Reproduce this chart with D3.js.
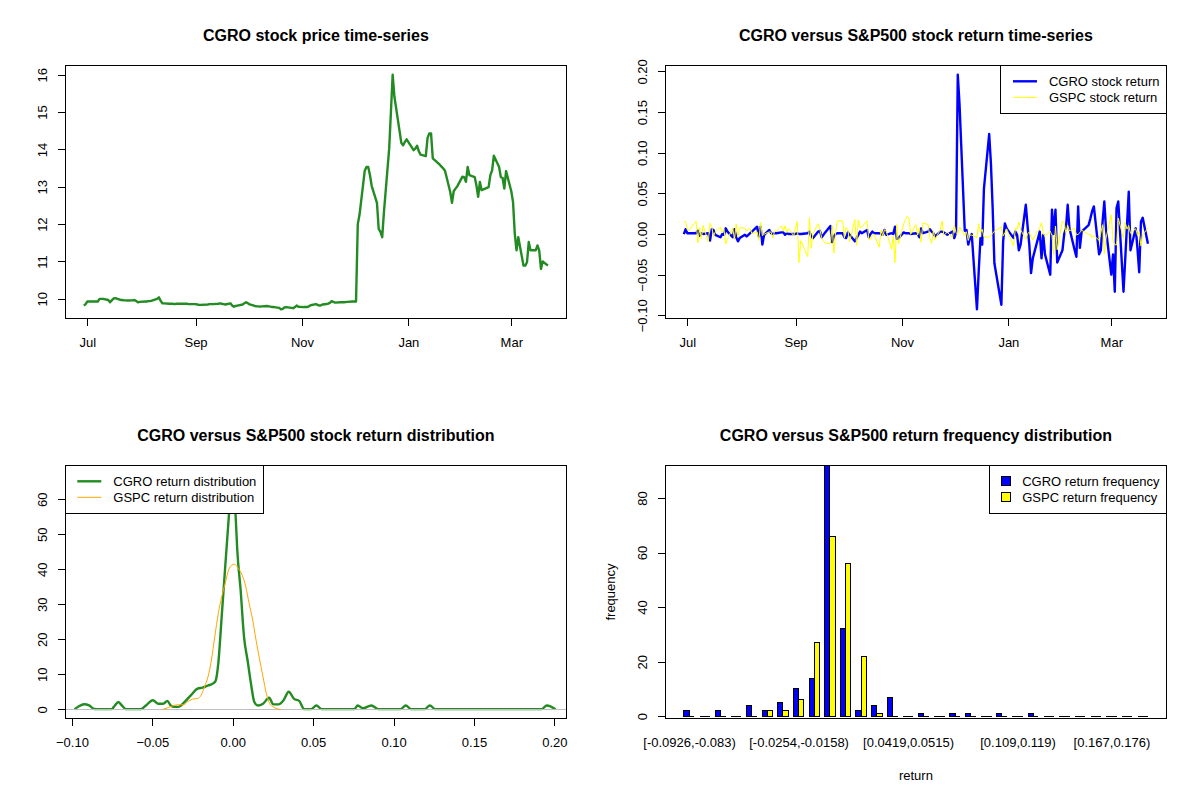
<!DOCTYPE html>
<html>
<head>
<meta charset="utf-8">
<script src="https://cdn.jsdelivr.net/npm/d3@7"></script>
<style>
  body { margin: 0; background: #fff; }
  svg text { font-family: "Liberation Sans", Arial, Helvetica, sans-serif; fill: #000; }
</style>
</head>
<body>
<svg id="chart" width="1200" height="800"></svg>
<script>
// ---- data ----
var firstDay = "2020-06-29", lastDay = "2021-03-22";
var holidays = ["2020-07-03","2020-09-07","2020-11-26","2020-12-25","2021-01-01","2021-01-18","2021-02-15"];

// CGRO close, one value per trading day
var cgroPrice = [
  9.82, 9.86, 9.93, 9.93, 9.93, 9.93, 10.00, 10.00, 10.00, 9.97,
  9.91, 9.96, 10.01, 10.02, 9.97, 9.97, 9.96, 9.96, 9.955, 9.96,
  9.97, 9.94, 9.91, 9.92, 9.93, 9.93, 9.94, 9.94, 9.955, 10.00,
  10.04, 9.95, 9.88, 9.88, 9.87, 9.87, 9.87, 9.86, 9.87, 9.87,
  9.87, 9.87, 9.87, 9.86, 9.86, 9.86, 9.85, 9.84, 9.84, 9.85,
  9.86, 9.86, 9.86, 9.87, 9.88, 9.87, 9.86, 9.85, 9.88, 9.82,
  9.79, 9.81, 9.82, 9.85, 9.88, 9.91, 9.88, 9.85, 9.81, 9.80,
  9.80, 9.79, 9.80, 9.81, 9.80, 9.79, 9.78, 9.78, 9.76, 9.72,
  9.73, 9.77, 9.78, 9.76, 9.75, 9.78, 9.82, 9.79, 9.78, 9.78,
  9.78, 9.80, 9.83, 9.86, 9.84, 9.82, 9.83, 9.85, 9.87, 9.89,
  9.94, 9.92, 9.90, 9.91, 9.91, 9.91, 9.92, 9.93, 9.93, 9.93,
  12.00, 12.25, 13.43, 13.53, 13.53, 13.31, 13.02, 12.57, 11.87, 11.79,
  11.65, 12.32, 14.02, 15.00, 16.00, 15.41, 14.17, 14.11, 14.20, 14.27,
  13.98, 14.02, 14.10, 13.95, 13.86, 13.82, 14.31, 14.43, 14.43, 13.76,
  13.59, 13.54, 13.49, 13.43, 12.86, 12.57, 12.88, 12.95, 13.01, 13.27,
  13.26, 13.13, 13.53, 13.31, 13.26, 13.04, 12.73, 13.13, 12.91, 12.99,
  13.31, 13.44, 13.83, 13.53, 13.26, 13.24, 12.95, 13.42, 12.88, 12.59,
  11.74, 11.30, 11.65, 10.89, 10.89, 10.98, 11.52, 11.30, 11.30, 11.43,
  11.30, 10.80, 11.00, 10.89
];

// daily returns
var cgroReturn = [
  0.000, 0.006, 0.001, 0.001, 0.001, 0.004, -0.002, 0.001, 0.000, 0.001,
  -0.008, 0.006, 0.005, -0.001, -0.004, 0.000, -0.001, 0.007, 0.003, -0.004,
  0.006, -0.004, -0.009, -0.005, -0.001, -0.003, -0.001, 0.001, 0.003, 0.009,
  -0.003, 0.009, -0.013, -0.001, 0.005, 0.001, 0.000, 0.001, 0.001, 0.002,
  0.002, -0.001, 0.001, 0.000, 0.000, 0.000, 0.001, 0.000, 0.000, 0.001,
  0.003, -0.003, -0.005, 0.003, 0.004, -0.004, -0.001, 0.002, 0.010, -0.010,
  -0.003, 0.000, 0.001, 0.001, -0.004, -0.005, 0.002, -0.001, -0.009, -0.005,
  -0.001, 0.003, 0.001, 0.005, -0.004, 0.000, 0.003, 0.001, 0.001, 0.000,
  -0.001, 0.005, -0.001, 0.001, 0.000, 0.009, -0.006, -0.005, 0.002, 0.001,
  0.001, 0.001, 0.000, 0.001, 0.000, -0.004, 0.007, 0.001, 0.003, 0.006,
  0.003, 0.001, -0.003, 0.003, 0.003, 0.002, -0.001, 0.003, -0.005, 0.002,
  0.196, 0.160, 0.004, 0.005, -0.013, -0.005, 0.000, -0.0926, -0.046, -0.005,
  -0.013, 0.056, 0.123, 0.087, 0.032, -0.036, -0.087, -0.009, 0.013, 0.007,
  -0.005, 0.003, -0.001, -0.020, -0.013, 0.036, 0.010, -0.013, -0.048, -0.030,
  0.003, -0.030, -0.001, -0.025, -0.050, 0.030, 0.000, 0.030, -0.035, -0.020,
  0.000, 0.007, 0.036, 0.007, -0.020, -0.028, 0.034, -0.017, 0.003, 0.011,
  0.019, 0.028, 0.034, -0.025, -0.020, 0.015, 0.040, 0.005, -0.050, -0.025,
  -0.071, 0.032, 0.040, -0.071, -0.030, 0.011, 0.052, -0.020, 0.007, -0.018,
  -0.047, 0.015, 0.020, -0.012
];

var gspcReturn = [
  0.0147, 0.0154, 0.0050, 0.0045, 0.0159, -0.0108, 0.0078, -0.0056, 0.0105, -0.0094,
  0.0134, 0.0091, -0.0034, 0.0028, 0.0084, 0.0017, 0.0057, -0.0123, -0.0062, 0.0074,
  -0.0065, 0.0124, -0.0038, 0.0077, 0.0072, 0.0036, 0.0064, 0.0064, 0.0006, 0.0027,
  -0.0080, 0.0140, -0.0020, -0.0002, 0.0027, 0.0023, -0.0044, 0.0032, 0.0034, 0.0100,
  0.0036, 0.0102, 0.0017, 0.0067, -0.0022, 0.0075, 0.0154, -0.0351, -0.0081, -0.0278,
  0.0201, -0.0176, 0.0005, 0.0127, 0.0052, -0.0046, -0.0084, -0.0112, -0.0116, 0.0105,
  -0.0237, 0.0030, 0.0160, 0.0161, -0.0048, 0.0083, 0.0053, -0.0096, 0.0180, -0.0140,
  0.0174, 0.0080, 0.0088, 0.0164, -0.0063, -0.0066, -0.0015, 0.0001, -0.0163, 0.0047,
  -0.0022, 0.0052, 0.0034, -0.0186, -0.0030, -0.0353, 0.0119, -0.0121, 0.0123, 0.0178,
  0.0220, 0.0195, -0.0003, 0.0117, -0.0014, 0.0077, -0.0100, 0.0136, 0.0116, -0.0048,
  -0.0116, 0.0039, -0.0068, 0.0056, 0.0162, -0.0016, 0.0024, -0.0046, 0.0113, 0.0018,
  -0.0006, 0.0088, -0.0019, 0.0028, -0.0079, -0.0013, -0.0013, -0.0044, 0.0129, 0.0018,
  0.0058, -0.0035, -0.0039, -0.0021, 0.0007, 0.0035, 0.0087, -0.0022, 0.0013, 0.0064,
  -0.0148, 0.0071, 0.0057, 0.0148, 0.0055, -0.0066, 0.0004, 0.0023, -0.0038, -0.0072,
  0.0081, 0.0139, 0.0003, -0.0030, 0.0036, -0.0015, -0.0257, 0.0098, -0.0193, 0.0161,
  0.0139, 0.0010, 0.0109, 0.0039, 0.0074, -0.0011, -0.0003, 0.0017, 0.0047, -0.0006,
  -0.0003, -0.0044, -0.0019, -0.0077, 0.0013, 0.0114, -0.0245, -0.0048, 0.0238, -0.0081,
  -0.0131, -0.0134, 0.0195, -0.0054, 0.0142, 0.0060, 0.0104, 0.0010, 0.0065, -0.0016,
  0.0029, -0.0148, -0.0006, 0.0070
];

var monthTicks = ["2020-07-01", "2020-09-01", "2020-11-01", "2021-01-01", "2021-03-01"];
var monthLabels = ["Jul", "Sep", "Nov", "Jan", "Mar"];

// density estimates
var cgroDensX = [-0.0983, -0.0957, -0.0925, -0.0893, -0.0861, -0.0829, -0.0754, -0.0733, -0.0711, -0.0690,
  -0.0664, -0.0572, -0.0540, -0.0497, -0.0465, -0.0433, -0.0407, -0.0386, -0.0364, -0.0336,
  -0.0304, -0.0261, -0.0219, -0.0187, -0.0154, -0.0122, -0.0107, -0.0090, -0.0069, -0.0047,
  -0.0026, -0.0013, -0.0002, 0.0017, 0.0028, 0.0049, 0.0070, 0.0092, 0.0113, 0.0134,
  0.0156, 0.0188, 0.0226, 0.0252, 0.0284, 0.0316, 0.0348, 0.0381, 0.0413, 0.0445,
  0.0488, 0.0520, 0.0552, 0.0755, 0.0777, 0.0809, 0.0862, 0.0905, 0.1044, 0.1076,
  0.1108, 0.1194, 0.1226, 0.1258, 0.1921, 0.1953, 0.2007];
var cgroDensY = [0.0, 0.86, 1.43, 1.1, 0.1, 0.05, 0.05, 1.1, 2.1, 1.1,
  0.05, 0.05, 1.1, 2.6, 1.6, 1.6, 2.4, 1.1, 0.7, 0.7,
  1.9, 4.0, 5.9, 6.2, 6.8, 7.4, 8.1, 13.1, 26.4, 40.7,
  54.1, 62.7, 67.0, 56.0, 45.5, 34.0, 20.7, 14.0, 7.4, 2.1,
  1.1, 1.6, 3.3, 1.4, 1.4, 2.6, 5.0, 3.0, 2.4, 0.05,
  0.05, 1.1, 0.05, 0.05, 1.1, 0.3, 1.1, 0.05, 0.05, 1.1,
  0.05, 0.05, 1.1, 0.05, 0.05, 1.1, 0.05];
var gspcDensX = [-0.0433, -0.0401, -0.0368, -0.0336, -0.0304, -0.0283, -0.0250, -0.0218, -0.0197, -0.0176,
  -0.0154, -0.0133, -0.0112, -0.0090, -0.0069, -0.0047, -0.0026, -0.0005, 0.0012, 0.0034,
  0.0059, 0.0081, 0.0102, 0.0124, 0.0145, 0.0166, 0.0188, 0.0209, 0.0230, 0.0252,
  0.0273, 0.0295];
var gspcDensY = [0.0, 0.5, 1.1, 1.3, 1.3, 2.1, 2.9, 3.1, 4.0, 6.4,
  9.3, 14.0, 20.7, 27.4, 32.1, 36.0, 39.8, 41.2, 41.4, 40.3,
  38.3, 35.0, 30.2, 25.5, 19.7, 14.5, 9.3, 4.5, 1.6, 0.7,
  0.2, 0.0];

// frequency table
var binLabels = ["[-0.0926,-0.083)", "[-0.083,-0.0734)", "[-0.0734,-0.0638)", "[-0.0638,-0.0542)", "[-0.0542,-0.0446)",
  "[-0.0446,-0.035)", "[-0.035,-0.0254)", "[-0.0254,-0.0158)", "[-0.0158,-0.00614)", "[-0.00614,0.00347)",
  "[0.00347,0.0131)", "[0.0131,0.0227)", "[0.0227,0.0323)", "[0.0323,0.0419)", "[0.0419,0.0515)",
  "[0.0515,0.0611)", "[0.0611,0.0707)", "[0.0707,0.0803)", "[0.0803,0.0899)", "[0.0899,0.0995)",
  "[0.0995,0.109)", "[0.109,0.119)", "[0.119,0.128)", "[0.128,0.138)", "[0.138,0.148)",
  "[0.148,0.157)", "[0.157,0.167)", "[0.167,0.176)", "[0.176,0.186)", "[0.186,0.196]"];
var cgroFreq = [2, 0, 2, 0, 4, 2, 5, 10, 14, 92, 32, 2, 4, 7, 0, 1, 0, 1, 1, 0, 1, 0, 1, 0, 0, 0, 0, 0, 0, 0];
var gspcFreq = [0, 0, 0, 0, 0, 2, 2, 6, 27, 66, 56, 22, 1, 0, 0, 0, 0, 0, 0, 0, 0, 0, 0, 0, 0, 0, 0, 0, 0, 0];

// ---- layout ----
var PW = 600, PH = 400;
var BOX = {l: 65.3, r: 566.5, t: 65.3, b: 318.7};
var FS = 13;

var svg = d3.select("#chart");
svg.append("rect").attr("width", 1200).attr("height", 800).attr("fill", "#fff");

var fmtDay = d3.utcFormat("%Y-%m-%d");
var days = d3.utcDays(d3.isoParse(firstDay), d3.utcDay.offset(d3.isoParse(lastDay), 1))
  .filter(function(d){ return d.getUTCDay() % 6 !== 0 && holidays.indexOf(fmtDay(d)) < 0; });

function pad(ext){
  var s = ext[1] - ext[0];
  return [ext[0] - s * 0.04, ext[1] + s * 0.04];
}

function panel(col, row, id){
  var g = svg.append("g").attr("transform", "translate(" + col * PW + "," + row * PH + ")");
  g.append("clipPath").attr("id", id)
    .append("rect").attr("x", BOX.l).attr("y", BOX.t)
    .attr("width", BOX.r - BOX.l).attr("height", BOX.b - BOX.t);
  return g;
}

function title(g, txt){
  g.append("text").attr("x", (BOX.l + BOX.r) / 2).attr("y", 40.5)
    .attr("text-anchor", "middle").attr("font-size", 16).attr("font-weight", "bold")
    .text(txt);
}

function box(g){
  g.append("rect").attr("x", BOX.l).attr("y", BOX.t)
    .attr("width", BOX.r - BOX.l).attr("height", BOX.b - BOX.t)
    .attr("fill", "none").attr("stroke", "#000").attr("stroke-width", 1)
    .attr("shape-rendering", "crispEdges");
}

function xAxis(g, scale, vals, fmt){
  var ax = g.append("g").attr("transform", "translate(0," + BOX.b + ")")
    .call(d3.axisBottom(scale).tickValues(vals).tickFormat(fmt)
      .tickSizeInner(7.5).tickSizeOuter(0).tickPadding(11.8));
  ax.select(".domain").remove();
  ax.selectAll("line").attr("stroke", "#000").attr("shape-rendering", "crispEdges");
  ax.selectAll("text").attr("font-size", FS).attr("font-family", null);
  return ax;
}

function yAxis(g, scale, vals, fmt){
  var ax = g.append("g").attr("transform", "translate(" + BOX.l + ",0)")
    .call(d3.axisLeft(scale).tickValues(vals).tickFormat(fmt)
      .tickSizeInner(7.5).tickSizeOuter(0));
  ax.select(".domain").remove();
  ax.selectAll("line").attr("stroke", "#000").attr("shape-rendering", "crispEdges");
  ax.selectAll("text").attr("font-size", FS).attr("font-family", null)
    .attr("x", null).attr("dy", null)
    .attr("text-anchor", "middle")
    .attr("transform", "translate(-18.3,0) rotate(-90)");
  return ax;
}

function legend(g, items, side){
  var lg = g.append("g");
  var widths = items.map(function(it){
    var t = lg.append("text").attr("font-size", FS).text(it.label);
    var w = t.node().getComputedTextLength();
    t.remove();
    return w;
  });
  var symW = items[0].kind === "fill" ? 9 : 24;
  var textOff = 12 + symW + 12;
  var bw = textOff + d3.max(widths) + 7;
  var bh = 16 * (items.length + 1);
  var left = side === "right" ? BOX.r - bw : BOX.l;
  lg.append("rect").attr("x", left).attr("y", BOX.t).attr("width", bw).attr("height", bh)
    .attr("fill", "#fff").attr("stroke", "#000").attr("shape-rendering", "crispEdges");
  items.forEach(function(it, i){
    var cy = BOX.t + 16 * (i + 1);
    if (it.kind === "fill") {
      lg.append("rect").attr("x", left + 12).attr("y", cy - 4.5).attr("width", 9).attr("height", 9)
        .attr("fill", it.color).attr("stroke", "#000").attr("shape-rendering", "crispEdges");
    } else {
      lg.append("line").attr("x1", left + 12).attr("x2", left + 12 + symW)
        .attr("y1", cy).attr("y2", cy)
        .attr("stroke", it.color).attr("stroke-width", it.lw);
    }
    lg.append("text").attr("x", left + textOff).attr("y", cy + 4.6)
      .attr("font-size", FS).text(it.label);
  });
}

// ---- shared time scale ----
var dayExt = pad([days[0].getTime(), days[days.length - 1].getTime()]);
function timeScale(){
  return d3.scaleUtc().domain([new Date(dayExt[0]), new Date(dayExt[1])]).range([BOX.l, BOX.r]);
}
var monthDates = monthTicks.map(function(s){ return d3.isoParse(s); });
function monthFmt(d, i){ return monthLabels[i]; }

// ---- panel 1: price ----
(function(){
  var g = panel(0, 0, "clip1");
  var x = timeScale();
  var y = d3.scaleLinear().domain(pad(d3.extent(cgroPrice))).range([BOX.b, BOX.t]);
  var line = d3.line().x(function(d, i){ return x(days[i]); }).y(function(d){ return y(d); });
  g.append("path").datum(cgroPrice).attr("clip-path", "url(#clip1)")
    .attr("d", line).attr("fill", "none").attr("stroke", "#228B22").attr("stroke-width", 2.4)
    .attr("stroke-linejoin", "round");
  box(g);
  xAxis(g, x, monthDates, monthFmt);
  yAxis(g, y, [10, 11, 12, 13, 14, 15, 16], d3.format("d"));
  title(g, "CGRO stock price time-series");
})();

// ---- panel 2: returns ----
(function(){
  var g = panel(1, 0, "clip2");
  var x = timeScale();
  var y = d3.scaleLinear().domain(pad(d3.extent(cgroReturn))).range([BOX.b, BOX.t]);
  var line = d3.line().x(function(d, i){ return x(days[i]); }).y(function(d){ return y(d); });
  g.append("path").datum(cgroReturn).attr("clip-path", "url(#clip2)")
    .attr("d", line).attr("fill", "none").attr("stroke", "#0000FF").attr("stroke-width", 2.4)
    .attr("stroke-linejoin", "round");
  g.append("path").datum(gspcReturn).attr("clip-path", "url(#clip2)")
    .attr("d", line).attr("fill", "none").attr("stroke", "#FFFF00").attr("stroke-width", 1);
  box(g);
  xAxis(g, x, monthDates, monthFmt);
  yAxis(g, y, [-0.10, -0.05, 0, 0.05, 0.10, 0.15, 0.20], d3.format(".2f"));
  title(g, "CGRO versus S&P500 stock return time-series");
  legend(g, [
    {label: "CGRO stock return", color: "#0000FF", lw: 2.4},
    {label: "GSPC stock return", color: "#FFFF00", lw: 1}
  ], "right");
})();

// ---- panel 3: densities ----
(function(){
  var g = panel(0, 1, "clip3");
  var x = d3.scaleLinear().domain(pad(d3.extent(cgroReturn))).range([BOX.l, BOX.r]);
  var y = d3.scaleLinear().domain(pad([0, d3.max(cgroDensY)])).range([BOX.b, BOX.t]);
  function dens(xs){
    return d3.line().curve(d3.curveMonotoneX)
      .x(function(d, i){ return x(xs[i]); }).y(function(d){ return y(d); });
  }
  g.append("path").datum(cgroDensY).attr("clip-path", "url(#clip3)")
    .attr("d", dens(cgroDensX)).attr("fill", "none").attr("stroke", "#228B22").attr("stroke-width", 2.4);
  g.append("line").attr("x1", BOX.l).attr("x2", BOX.r).attr("y1", y(0)).attr("y2", y(0))
    .attr("stroke", "#BEBEBE").attr("stroke-width", 1).attr("shape-rendering", "crispEdges");
  g.append("path").datum(gspcDensY).attr("clip-path", "url(#clip3)")
    .attr("d", dens(gspcDensX)).attr("fill", "none").attr("stroke", "#FFA500").attr("stroke-width", 1);
  box(g);
  xAxis(g, x, [-0.10, -0.05, 0, 0.05, 0.10, 0.15, 0.20], d3.format(".2f"));
  yAxis(g, y, [0, 10, 20, 30, 40, 50, 60], d3.format("d"));
  title(g, "CGRO versus S&P500 stock return distribution");
  legend(g, [
    {label: "CGRO return distribution", color: "#228B22", lw: 2.4},
    {label: "GSPC return distribution", color: "#FFA500", lw: 1}
  ], "left");
})();

// ---- panel 4: frequency bars ----
(function(){
  var g = panel(1, 1, "clip4");
  var n = binLabels.length;
  var x = d3.scaleLinear().domain(pad([1, 3 * n])).range([BOX.l, BOX.r]);
  var y = d3.scaleLinear().domain([-0.01 * d3.max(cgroFreq), d3.max(cgroFreq)]).range([BOX.b, BOX.t]);
  function bar(x0, v){
    var a = x(x0), b = x(x0 + 1), y0 = y(0), y1 = y(v);
    return "M" + a + "," + y0 + "V" + y1 + "H" + b + "V" + y0 + "Z";
  }
  var bars = g.append("g").attr("shape-rendering", "crispEdges");
  bars.selectAll("path.cg").data(cgroFreq).join("path").attr("class", "cg")
    .attr("d", function(d, i){ return bar(1 + 3 * i, d); })
    .attr("fill", "#0000FF").attr("stroke", "#000").attr("stroke-width", 1);
  bars.selectAll("path.gs").data(gspcFreq).join("path").attr("class", "gs")
    .attr("d", function(d, i){ return bar(2 + 3 * i, d); })
    .attr("fill", "#FFFF00").attr("stroke", "#000").attr("stroke-width", 1);
  box(g);
  yAxis(g, y, [0, 20, 40, 60, 80], d3.format("d"));

  // group labels, dropping the ones that would overlap (as R does)
  var centers = binLabels.map(function(d, i){ return 2 + 3 * i; });
  var ax = g.append("g").attr("transform", "translate(0," + BOX.b + ")")
    .call(d3.axisBottom(x).tickValues(centers)
      .tickFormat(function(d, i){ return binLabels[i]; })
      .tickSize(0).tickPadding(19.3));
  ax.select(".domain").remove();
  ax.selectAll("text").attr("font-size", FS).attr("font-family", null);
  var lastRight = -Infinity;
  ax.selectAll(".tick").each(function(d){
    var t = d3.select(this).select("text");
    var w = t.node().getComputedTextLength();
    var l = x(d) - w / 2;
    if (l >= lastRight + 8) { lastRight = x(d) + w / 2; }
    else { d3.select(this).remove(); }
  });

  title(g, "CGRO versus S&P500 return frequency distribution");
  g.append("text").attr("x", (BOX.l + BOX.r) / 2).attr("y", 379.5)
    .attr("text-anchor", "middle").attr("font-size", FS).text("return");
  g.append("text").attr("transform", "translate(14.5," + (BOX.t + BOX.b) / 2 + ") rotate(-90)")
    .attr("text-anchor", "middle").attr("font-size", FS).text("frequency");
  legend(g, [
    {label: "CGRO return frequency", color: "#0000FF", kind: "fill"},
    {label: "GSPC return frequency", color: "#FFFF00", kind: "fill"}
  ], "right");
})();
</script>
</body>
</html>
